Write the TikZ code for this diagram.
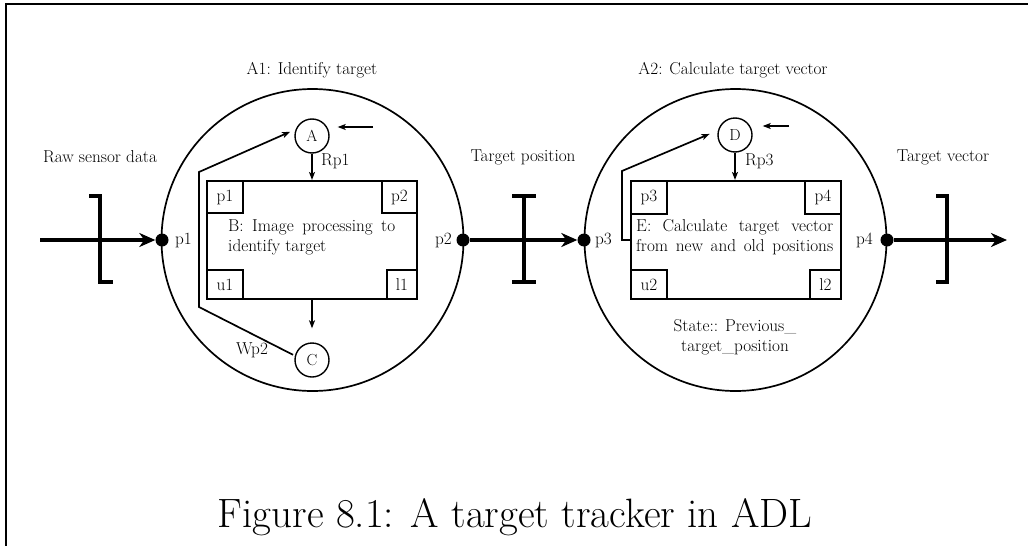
\documentclass[tikz,border=0pt]{standalone}
\usetikzlibrary{arrows.meta}
\begin{document}
\begin{tikzpicture}[x=1pt,y=-1pt,
  lbl/.style={font=\fontsize{17.2}{20}\selectfont, inner sep=0pt},
  bigcirc/.style={circle, draw, line width=1.7pt, minimum size=302pt, inner sep=0pt},
  smallcirc/.style={circle, draw, line width=1.4pt, minimum size=34pt, inner sep=0pt, font=\fontsize{16}{18}\selectfont},
  procbox/.style={rectangle, draw, line width=2.1pt, minimum width=210pt, minimum height=118pt, inner sep=0pt},
  cornerbox/.style={rectangle, draw, line width=2.1pt, inner sep=0pt, font=\fontsize{17.2}{20}\selectfont},
  dot/.style={circle, fill, minimum size=13pt, inner sep=0pt},
  thickarrow/.style={line width=4.5pt, -{Stealth[length=16pt,width=14pt,inset=5pt]}},
  bracketline/.style={line width=4.5pt},
  thinarrow/.style={line width=1.4pt, -{Stealth[length=8pt,width=6pt,inset=2pt]}},
  polyline/.style={line width=1.7pt, -{Stealth[length=8pt,width=6pt,inset=2pt]}},
  frameline/.style={line width=2.2pt}
]
\useasboundingbox (0,0) rectangle (1028,546);
% frame
\draw[frameline] (6,546) -- (6,4) -- (1028,4);

% big circles
\node[bigcirc] (A1) at (312.5,240) {};
\node[bigcirc] (A2) at (735.5,240) {};
\node[lbl] (A1t) at (312,70) {A1: Identify target};
\node[lbl] (A2t) at (733,70) {A2: Calculate target vector};

% ports on circles
\node[dot] (p1d) at (162,240) {};
\node[dot] (p2d) at (463,240) {};
\node[dot] (p3d) at (584,240) {};
\node[dot] (p4d) at (887,240) {};
\node[lbl, anchor=west] (p1l) at (175,240) {p1};
\node[lbl, anchor=east] (p2l) at (452,240) {p2};
\node[lbl, anchor=west] (p3l) at (595,240) {p3};
\node[lbl, anchor=east] (p4l) at (873,240) {p4};

% external labels
\node[lbl] (raw) at (100,157) {Raw sensor data};
\node[lbl] (tpos) at (523,157) {Target position};
\node[lbl] (tvec) at (943,157) {Target vector};

% connectors between components
\coordinate (in) at (40,240);
\coordinate (out) at (1007,240);
\draw[thickarrow] (in) -- (p1d);
\draw[thickarrow] (p2d) -- (p3d);
\draw[thickarrow] (p4d) -- (out);

% brackets
\draw[bracketline] (89,196) -- (100,196) -- (100,282) -- (113,282);
\draw[bracketline] (524,196) -- (524,282);
\draw[bracketline] (512,196) -- (536,196);
\draw[bracketline] (512,282) -- (536,282);
\draw[bracketline] (936,196) -- (947,196) -- (947,282) -- (936,282);

% ---------- component A1 ----------
\node[procbox] (B) at (312,240) {};
\node[cornerbox, minimum width=36pt, minimum height=32pt, anchor=north west] (Bp1) at (B.north west) {p1};
\node[cornerbox, minimum width=35pt, minimum height=32pt, anchor=north east] (Bp2) at (B.north east) {p2};
\node[cornerbox, minimum width=36pt, minimum height=29pt, anchor=south west] (Bu1) at (B.south west) {u1};
\node[cornerbox, minimum width=30pt, minimum height=29pt, anchor=south east] (Bl1) at (B.south east) {l1};
\node[lbl, align=left, anchor=west] (Btext) at (228,237) {\makebox[167pt][s]{B: Image processing to}\\[0pt]identify target};

\node[smallcirc] (Anode) at (312,136) {A};
\node[smallcirc] (Cnode) at (312,360) {C};
\coordinate (Ain) at (373,127);
\draw[thinarrow, shorten >=8pt] (Ain) -- (Ain -| Anode.east);
\draw[thinarrow] (Anode.south) -- (B.north);
\node[lbl, anchor=west] (Rp1) at (321,161) {Rp1};
\draw[thinarrow, shorten >=14pt] (B.south) -- (Cnode.north);
\draw[polyline, shorten <=2pt, shorten >=6pt] (Cnode.166) -- (199,307) -- (199,172) -- (Anode.158);
\node[lbl] (Wp2) at (252,350) {Wp2};

% ---------- component A2 ----------
\node[procbox] (E) at (736,240) {};
\node[cornerbox, minimum width=36pt, minimum height=33pt, anchor=north west] (Ep3) at (E.north west) {p3};
\node[cornerbox, minimum width=36pt, minimum height=33pt, anchor=north east] (Ep4) at (E.north east) {p4};
\node[cornerbox, minimum width=36pt, minimum height=29pt, anchor=south west] (Eu2) at (E.south west) {u2};
\node[cornerbox, minimum width=31pt, minimum height=29pt, anchor=south east] (El2) at (E.south east) {l2};
\node[lbl, align=left, anchor=west] (Etext) at (636,237) {\makebox[197pt][s]{E: Calculate target vector}\\[0pt]\makebox[197pt][s]{from new and old positions}};

\node[smallcirc] (Dnode) at (735,135) {D};
\coordinate (Din) at (789,126);
\draw[thinarrow, shorten >=10pt] (Din) -- (Din -| Dnode.east);
\draw[thinarrow] (Dnode.south) -- (Dnode.south |- E.north);
\node[lbl, anchor=west] (Rp3) at (745,161) {Rp3};
\draw[polyline, shorten >=9pt] (E.west) -- (622,240) -- (622,171) -- (Dnode.165);
\node[lbl, align=center] (state) at (735,337) {State:: Previous\_\\target\_position};

% caption
\node[font=\fontsize{41}{48}\selectfont, inner sep=0pt, anchor=base] (cap) at (515,527) {Figure 8.1: A target tracker in ADL};
\end{tikzpicture}
\end{document}
